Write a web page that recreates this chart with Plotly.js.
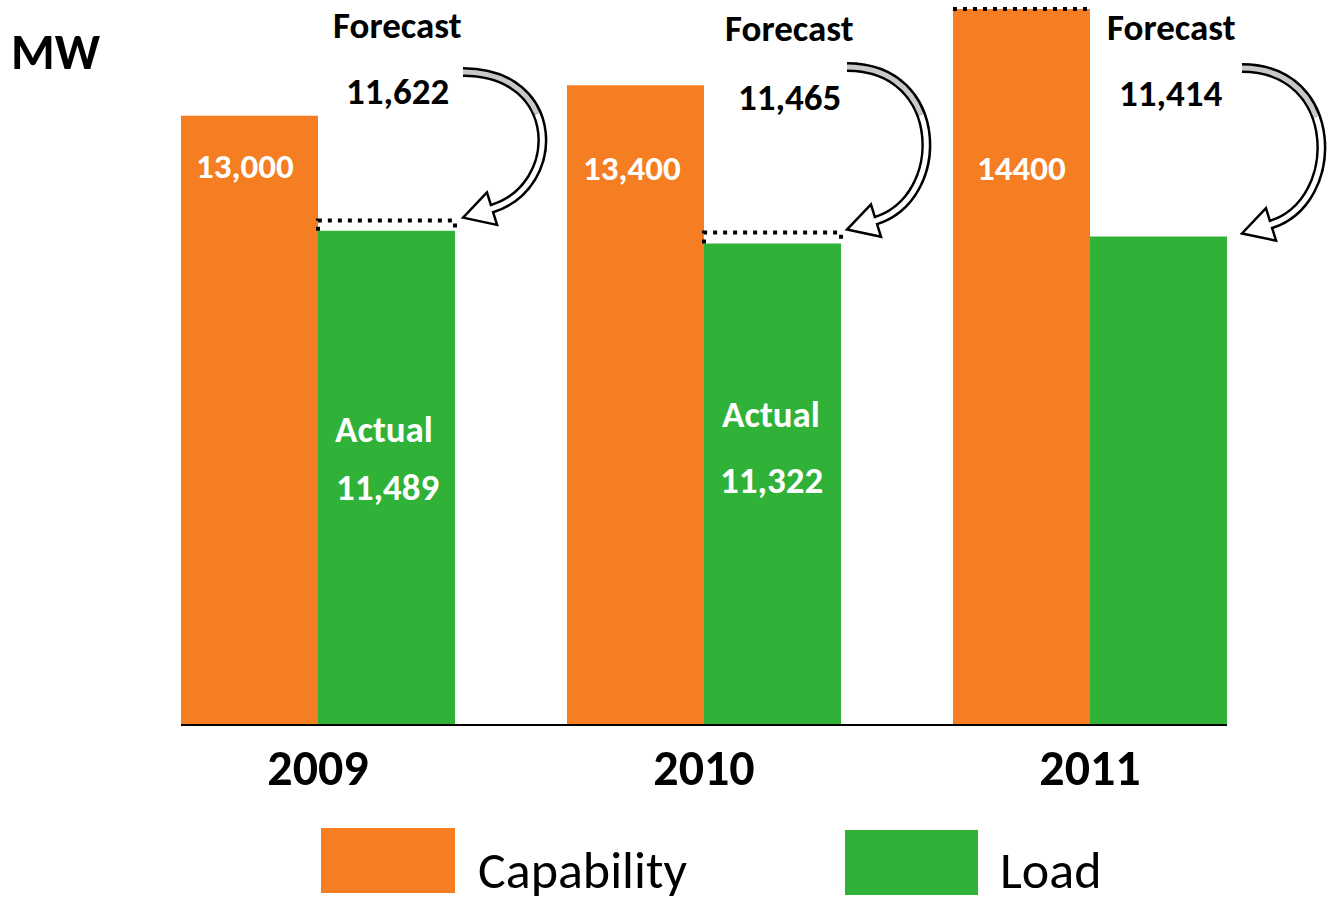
<!DOCTYPE html>
<html>
<head>
<meta charset="utf-8">
<script src="https://cdn.plot.ly/plotly-3.0.1.min.js"></script>
<style>html,body{margin:0;padding:0;background:#fff;}#chart{width:1327px;height:902px;}</style>
</head>
<body>
<div id="chart"></div>
<script>
// ---- data ----
const years = ['2009', '2010', '2011'];
const capability = [13000, 13400, 14400];
const load = [11489, 11322, 11414];
const forecast = [11622, 11465, 11414];
const capLabels = ['13,000', '13,400', '14400'];
const loadLabels = ['11,489', '11,322', ''];
const forecastLabels = ['11,622', '11,465', '11,414'];
const seriesNames = ['Capability', 'Load'];

// ---- layout constants ----
const W = 1327, H = 902;
const M = {l: 125, r: 44, t: 4, b: 177};
const PW = W - M.l - M.r, PH = H - M.t - M.b;
const YR = [5000, 14466];
const ORANGE = '#F47E21', GREEN = '#30B137';
const FONT = 'Carlito, Lato, sans-serif';
const BARW = (1 - 0.29) / 2;

const px2x = px => (px - M.l) / PW;
const py2y = py => (H - M.b - py) / PH;
const v2py = v => H - M.b - (v - YR[0]) / (YR[1] - YR[0]) * PH;

const traces = [
  {type: 'bar', name: seriesNames[0], x: years, y: capability, marker: {color: ORANGE}, showlegend: false, hoverinfo: 'x+y'},
  {type: 'bar', name: seriesNames[1], x: years, y: load, marker: {color: GREEN}, showlegend: false, hoverinfo: 'x+y'}
];

const shapes = [];
const annotations = [];

// baseline
shapes.push({type: 'line', xref: 'x', yref: 'paper', x0: -BARW, x1: 2 + BARW, y0: 0, y1: 0,
  line: {color: '#000', width: 2}});

// dotted forecast boxes (when forecast exceeds actual) and dotted cap top for last year
const DOT = '4px,6px';
years.forEach((yr, i) => {
  if (forecast[i] > load[i]) {
    shapes.push({type: 'path', xref: 'x', yref: 'y',
      path: `M ${i},${load[i]} L ${i},${forecast[i]} L ${i + BARW},${forecast[i]} L ${i + BARW},${load[i]}`,
      line: {color: '#000', width: 4, dash: DOT}, fillcolor: 'rgba(0,0,0,0)'});
  }
});
shapes.push({type: 'line', xref: 'x', yref: 'y', x0: 2 - BARW, x1: 2, y0: capability[2], y1: capability[2],
  line: {color: '#000', width: 4, dash: DOT}});

// curved block arrows (pixel geometry converted to paper coords)
const arrowGeo = [
  {tail: [463, 72], tipX: 463},
  {tail: [847, 67], tipX: 847},
  {tail: [1242, 68], tipX: 1242}
];
function lerp(a, b, t) { return [a[0] + (b[0] - a[0]) * t, a[1] + (b[1] - a[1]) * t]; }
function P(p) { return `${px2x(p[0]).toFixed(5)},${py2y(p[1]).toFixed(5)}`; }
function bez(p) { return `M ${P(p[0])} C ${P(p[1])} ${P(p[2])} ${P(p[3])}`; }
arrowGeo.forEach((g, i) => {
  const tip = [g.tipX, v2py(forecast[i]) - 3];
  const d = [29, -9];
  const dl = Math.hypot(d[0], d[1]);
  const u = [d[0] / dl, d[1] / dl];
  const E = [tip[0] + d[0], tip[1] + d[1]];
  const T = g.tail;
  const P1 = [T[0] + 100, T[1]];
  const P2 = [E[0] + 75 * u[0], E[1] + 75 * u[1]];
  const pts = [T, P1, P2, E];
  const t = 0.4;
  const a = lerp(pts[0], pts[1], t), b = lerp(pts[1], pts[2], t), c = lerp(pts[2], pts[3], t);
  const ab = lerp(a, b, t), bc = lerp(b, c, t), m = lerp(ab, bc, t);
  const first = [pts[0], a, ab, m], second = [m, bc, c, pts[3]];
  const perp = [-u[1], u[0]];
  const h = 17;
  const w1 = [E[0] + perp[0] * h, E[1] + perp[1] * h];
  const w2 = [E[0] - perp[0] * h, E[1] - perp[1] * h];
  const Ein = [E[0] - u[0] * 3, E[1] - u[1] * 3];
  shapes.push({type: 'path', xref: 'paper', yref: 'paper', path: bez(pts),
    line: {color: '#000', width: 10}, fillcolor: 'rgba(0,0,0,0)'});
  shapes.push({type: 'path', xref: 'paper', yref: 'paper',
    path: `M ${P(tip)} L ${P(w1)} L ${P(w2)} Z`,
    line: {color: '#000', width: 2.5}, fillcolor: '#fff'});
  shapes.push({type: 'path', xref: 'paper', yref: 'paper', path: bez(second) + ` L ${P(Ein)}`,
    line: {color: '#fff', width: 5}, fillcolor: 'rgba(0,0,0,0)'});
  shapes.push({type: 'path', xref: 'paper', yref: 'paper', path: bez(first),
    line: {color: '#c8c8c8', width: 5}, fillcolor: 'rgba(0,0,0,0)'});
});

function txt(text, px, py, size, color, opts = {}) {
  annotations.push(Object.assign({text: text, xref: 'paper', yref: 'paper', x: px2x(px), y: py2y(py),
    xanchor: 'center', yanchor: 'middle', showarrow: false,
    font: {family: FONT, size: size, color: color, weight: 700}}, opts));
}

// labels
txt('MW', 9, 52, 50, '#000', {xanchor: 'left'});
const capPos = [[245, 166], [632, 168], [1021, 168]];
capLabels.forEach((s, i) => txt(s, capPos[i][0], capPos[i][1], 35, '#fff'));
const actPos = [[384, 430, 387, 488], [771, 414, 771, 481]];
loadLabels.forEach((s, i) => {
  if (!s) return;
  txt('Actual', actPos[i][0], actPos[i][1], 37, '#fff');
  txt(s, actPos[i][2], actPos[i][3], 37, '#fff');
});
const fcPos = [[397, 26, 397, 92], [789, 29, 789, 97], [1171, 28, 1171, 94]];
forecastLabels.forEach((s, i) => {
  txt('Forecast', fcPos[i][0], fcPos[i][1], 37, '#000');
  txt(s, fcPos[i][2], fcPos[i][3], 37, '#000');
});

// legend (swatches + labels)
const legSw = [[321, 828, 455, 893], [845, 830, 978, 895]];
const legTx = [[476, 870], [998, 870]];
seriesNames.forEach((n, i) => {
  const s = legSw[i];
  shapes.push({type: 'rect', xref: 'paper', yref: 'paper', x0: px2x(s[0]), x1: px2x(s[2]), y0: py2y(s[3]), y1: py2y(s[1]),
    line: {width: 0}, fillcolor: i === 0 ? ORANGE : GREEN});
  annotations.push({text: n, xref: 'paper', yref: 'paper', x: px2x(legTx[i][0]), y: py2y(legTx[i][1]),
    xanchor: 'left', yanchor: 'middle', showarrow: false,
    font: {family: FONT, size: 52, color: '#000'}});
});

const layout = {
  width: W, height: H,
  margin: M,
  paper_bgcolor: '#fff', plot_bgcolor: '#fff',
  barmode: 'group', bargap: 0.29, bargroupgap: 0,
  showlegend: false,
  xaxis: {type: 'category', showgrid: false, zeroline: false, showline: false, ticks: '',
    tickfont: {family: FONT, size: 50, color: '#000', weight: 700}, ticklabelstandoff: 9, fixedrange: true},
  yaxis: {visible: false, range: YR, fixedrange: true},
  shapes: shapes,
  annotations: annotations
};

Plotly.newPlot('chart', traces, layout, {displayModeBar: false, staticPlot: true});
</script>
</body>
</html>
